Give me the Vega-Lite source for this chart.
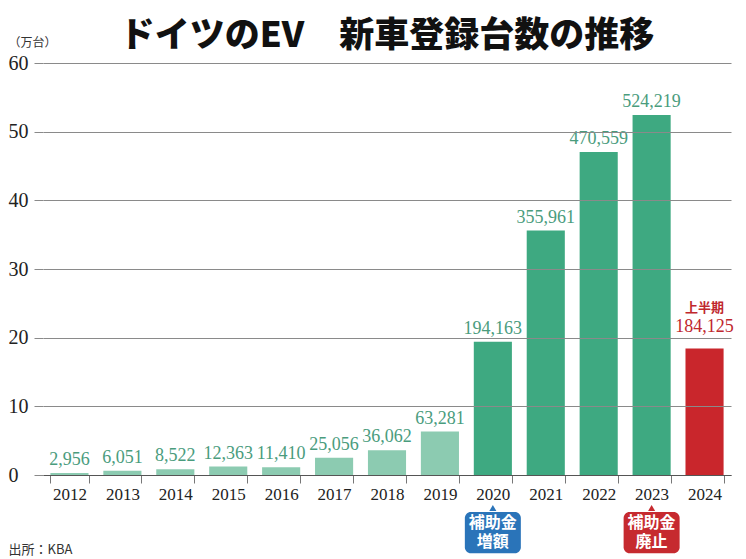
{
  "$schema": "https://vega.github.io/schema/vega-lite/v6.json",
  "width": 688,
  "height": 412,
  "autosize": "none",
  "padding": {"left": 43, "top": 63, "right": 15, "bottom": 84},
  "background": "white",
  "title": {
    "text": "ドイツのEV　新車登録台数の推移",
    "font": "Noto Sans CJK JP",
    "fontSize": 35,
    "fontWeight": 900,
    "color": "#111111",
    "anchor": "middle",
    "frame": "group",
    "baseline": "alphabetic",
    "offset": 14,
    "dy": 60
  },
  "config": {
    "view": {"stroke": null},
    "axis": {"labelFont": "Liberation Serif, serif"}
  },
  "datasets": {
    "sales": [
      {"year": "2012", "count": 2956, "group": "early"},
      {"year": "2013", "count": 6051, "group": "early"},
      {"year": "2014", "count": 8522, "group": "early"},
      {"year": "2015", "count": 12363, "group": "early"},
      {"year": "2016", "count": 11410, "group": "early"},
      {"year": "2017", "count": 25056, "group": "early"},
      {"year": "2018", "count": 36062, "group": "early"},
      {"year": "2019", "count": 63281, "group": "early"},
      {"year": "2020", "count": 194163, "group": "boom"},
      {"year": "2021", "count": 355961, "group": "boom"},
      {"year": "2022", "count": 470559, "group": "boom"},
      {"year": "2023", "count": 524219, "group": "boom"},
      {"year": "2024", "count": 184125, "group": "h1", "note": "上半期"}
    ],
    "events": [
      {"year": "2020", "kind": "up", "label": ["補助金", "増額"]},
      {"year": "2023", "kind": "stop", "label": ["補助金", "廃止"]}
    ]
  },
  "layer": [
    {
      "data": {"name": "sales"},
      "mark": {"type": "bar"},
      "encoding": {
        "x": {
          "field": "year",
          "type": "ordinal",
          "scale": {"paddingInner": 0.28, "paddingOuter": 0.14},
          "axis": {
            "title": "出所：KBA",
            "titleFont": "Noto Sans CJK JP",
            "titleX": -35,
            "titleY": 74,
            "titleAlign": "left",
            "titleBaseline": "middle",
            "titleFontSize": 13,
            "titleFontWeight": "normal",
            "titleColor": "#333333",
            "labelAngle": 0,
            "labelFont": "Liberation Serif, serif",
            "labelFontSize": 17,
            "labelColor": "#222222",
            "labelPadding": 3,
            "tickBand": "extent",
            "tickSize": 8,
            "tickColor": "#777777",
            "domainColor": "#555555",
            "zindex": 1
          }
        },
        "y": {
          "field": "count",
          "type": "quantitative",
          "scale": {"domain": [0, 600000], "nice": false},
          "axis": {
            "title": "（万台）",
            "titleFont": "Noto Sans CJK JP",
            "titleAngle": 0,
            "titleX": -35,
            "titleY": -21,
            "titleAlign": "left",
            "titleBaseline": "middle",
            "titleFontSize": 12,
            "titleFontWeight": "normal",
            "titleColor": "#333333",
            "values": [0, 100000, 200000, 300000, 400000, 500000, 600000],
            "labelExpr": "datum.value / 10000",
            "labelFont": "Liberation Serif, serif",
            "labelAlign": "left",
            "labelPadding": 26,
            "labelFontSize": 20,
            "labelColor": "#222222",
            "tickSize": 9,
            "tickColor": "#8a8a8a",
            "gridColor": "#8a8a8a",
            "domain": false,
            "zindex": 1
          }
        },
        "color": {
          "field": "group",
          "type": "nominal",
          "scale": {"domain": ["early", "boom", "h1"], "range": ["#8ccbb1", "#3ea981", "#c9262c"]},
          "legend": null
        }
      }
    },
    {
      "data": {"name": "sales"},
      "transform": [{"filter": "datum.year !== '2024'"}],
      "mark": {"type": "text", "baseline": "bottom", "dy": -4, "font": "Liberation Serif, serif", "fontSize": 18, "color": "#4a9c7d"},
      "encoding": {
        "x": {"field": "year", "type": "ordinal"},
        "y": {"field": "count", "type": "quantitative"},
        "text": {"field": "count", "type": "quantitative", "format": ",d"}
      }
    },
    {
      "data": {"name": "sales"},
      "transform": [{"filter": "datum.year === '2024'"}],
      "mark": {"type": "text", "baseline": "bottom", "dy": -13, "font": "Liberation Serif, serif", "fontSize": 18, "color": "#c0272d"},
      "encoding": {
        "x": {"field": "year", "type": "ordinal"},
        "y": {"field": "count", "type": "quantitative"},
        "text": {"field": "count", "type": "quantitative", "format": ",d"}
      }
    },
    {
      "data": {"name": "sales"},
      "transform": [{"filter": "datum.year === '2024'"}],
      "mark": {"type": "text", "baseline": "bottom", "dy": -34, "font": "Noto Sans CJK JP", "fontWeight": "bold", "fontSize": 13, "color": "#c0272d"},
      "encoding": {
        "x": {"field": "year", "type": "ordinal"},
        "y": {"field": "count", "type": "quantitative"},
        "text": {"field": "note", "type": "nominal"}
      }
    },
    {
      "data": {"name": "events"},
      "mark": {"type": "point", "shape": "triangle-up", "filled": true, "size": 50, "opacity": 1},
      "encoding": {
        "x": {"field": "year", "type": "ordinal"},
        "y": {"datum": -48000},
        "color": {"condition": {"test": "datum.kind === 'up'", "value": "#2a74b9"}, "value": "#c62a2f"}
      }
    },
    {
      "data": {"name": "events"},
      "mark": {"type": "bar", "width": 56, "cornerRadius": 6},
      "encoding": {
        "x": {"field": "year", "type": "ordinal"},
        "y": {"datum": -54000},
        "y2": {"datum": -114000},
        "color": {"condition": {"test": "datum.kind === 'up'", "value": "#2a74b9"}, "value": "#c62a2f"}
      }
    },
    {
      "data": {"name": "events"},
      "mark": {"type": "text", "baseline": "middle", "font": "Noto Sans CJK JP", "fontWeight": "bold", "fontSize": 16, "lineHeight": 19, "color": "white"},
      "encoding": {
        "x": {"field": "year", "type": "ordinal"},
        "y": {"datum": -70000},
        "text": {"field": "label"}
      }
    }
  ]
}
